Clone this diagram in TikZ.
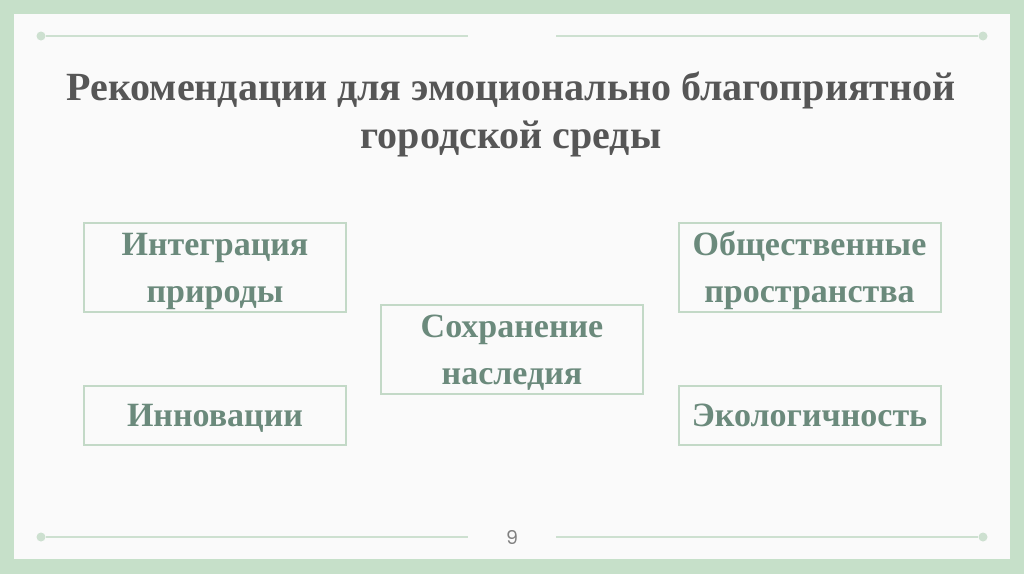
\documentclass[tikz,border=0pt]{standalone}
\usepackage{fontspec}
\setmainfont{Liberation Serif}
\newfontfamily\numfont{Poppins}
\usetikzlibrary{positioning}
\definecolor{framegreen}{HTML}{C6E0C9}
\definecolor{linegreen}{HTML}{CDE0D0}
\definecolor{boxline}{HTML}{C3D9C7}
\definecolor{boxtext}{HTML}{6B8A7C}
\definecolor{titlegray}{HTML}{565656}
\definecolor{pagebg}{HTML}{FAFAFA}
\newcommand{\upstrut}[1]{\rule{0pt}{#1}}
\newcommand{\downstrut}[1]{\rule[-#1]{0pt}{#1}}
\begin{document}
\begin{tikzpicture}[x=1pt,y=-1pt]
				\tikzstyle{topic}=[draw=boxline, line width=2pt, minimum width=262pt, minimum height=89pt, align=center, text=boxtext, font=\fontsize{34}{47}\selectfont\bfseries, inner sep=0pt]
				\tikzstyle{short topic}=[topic, minimum height=59pt, text height=22pt, text depth=0pt]
				\tikzstyle{rule}=[draw=linegreen, line width=2pt]
				\tikzstyle{dot}=[circle, fill=linegreen, minimum size=9pt, inner sep=0pt]
				\useasboundingbox (0,0) rectangle (1024,574);
				%Frame
				\fill[framegreen] (0,0) rectangle (1024,574);
				\fill[pagebg] (14,14) rectangle (1010,559);
				%Top and bottom rules
				\node[dot](tl) at (41,36){};
				\node[dot](tr) at (983,36){};
				\coordinate (tm1) at (468,36);
				\coordinate (tm2) at (556,36);
				\draw[rule] (tl) -- (tm1);
				\draw[rule] (tm2) -- (tr);
				\node[dot](bl) at (41,537){};
				\node[dot](br) at (983,537){};
				\coordinate (bm1) at (468,537);
				\coordinate (bm2) at (556,537);
				\draw[rule] (bl) -- (bm1);
				\draw[rule] (bm2) -- (br);
				\node[text=black!50, font=\numfont\fontsize{19}{22}\selectfont](page) at (512,537){9};
				%Title
				\node[text=titlegray, align=center, inner sep=0pt, font=\fontsize{40}{48}\selectfont\bfseries](title) at (511,110){\upstrut{40pt}Рекомендации для эмоционально благоприятной\\городской среды\downstrut{12pt}};
				%Left column
				\node[topic](nature) at (215,267.5){\upstrut{31pt}Интеграция\\природы\downstrut{9pt}};
				\node[short topic](innov) at (215,415.5){Инновации};
				%Middle
				\node[topic](heritage) at (512,349.5){\upstrut{31pt}Сохранение\\наследия\downstrut{9pt}};
				%Right column
				\node[topic](public) at (809.5,267.5){\upstrut{31pt}Общественные\\пространства\downstrut{9pt}};
				\node[short topic](eco) at (809.5,415.5){Экологичность};
\end{tikzpicture}
\end{document}
